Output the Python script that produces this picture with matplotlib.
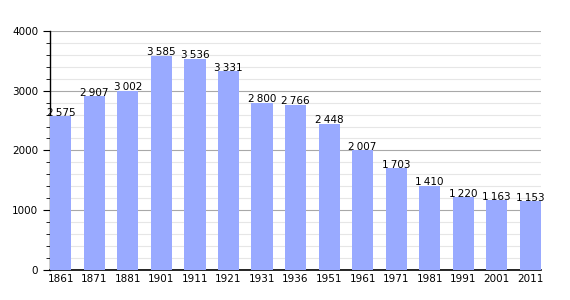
import matplotlib
matplotlib.use('Agg')
import matplotlib.pyplot as plt
from matplotlib.ticker import MultipleLocator

years = ['1861', '1871', '1881', '1901', '1911', '1921', '1931', '1936',
         '1951', '1961', '1971', '1981', '1991', '2001', '2011']
population = [2575, 2907, 3002, 3585, 3536, 3331, 2800, 2766,
              2448, 2007, 1703, 1410, 1220, 1163, 1153]

fig = plt.figure(figsize=(5.7, 3.0), dpi=100)
ax = fig.add_axes([0.088, 0.1, 0.861, 0.797])

x = range(len(years))
ax.bar(x, population, width=0.63, color='#99aaff', zorder=3)

for i, v in zip(x, population):
    lbl = '{:,}'.format(v).replace(',', '\u202f')
    ax.text(i, v + 5, lbl, ha='center', va='baseline', fontsize=7.5, zorder=4)

ax.set_xlim(-0.32, len(years) - 1 + 0.32)
ax.set_ylim(0, 4000)
ax.set_xticks(list(x))
ax.set_xticklabels(years, fontsize=7.5)
ax.yaxis.set_major_locator(MultipleLocator(1000))
ax.yaxis.set_minor_locator(MultipleLocator(200))
ax.tick_params(axis='y', labelsize=7.5, which='major', length=5)
ax.tick_params(axis='y', which='minor', length=3)
ax.tick_params(axis='x', length=0, pad=3)

ax.grid(axis='y', which='major', color='#a8a8a8', linewidth=0.8, zorder=0)
ax.grid(axis='y', which='minor', color='#e6e6e6', linewidth=0.8, zorder=0)

for s in ['top', 'right']:
    ax.spines[s].set_visible(False)
ax.spines['left'].set_linewidth(1.0)
ax.spines['bottom'].set_linewidth(1.2)

fig.savefig('out.png', dpi=100)
